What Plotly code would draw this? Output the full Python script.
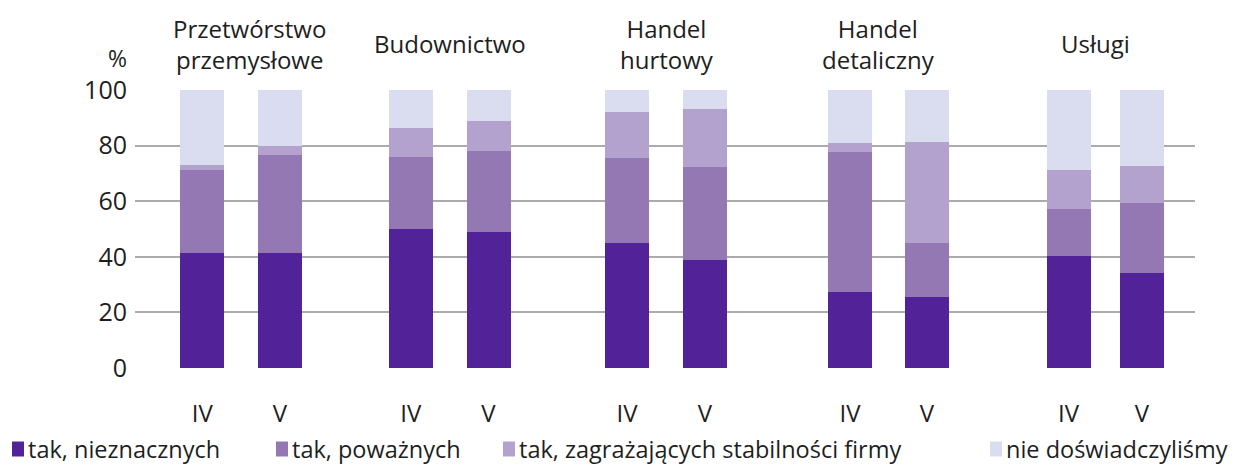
import plotly.graph_objects as go

# ---- data ----
groups = ["Przetwórstwo<br>przemysłowe", "Budownictwo", "Handel<br>hurtowy", "Handel<br>detaliczny", "Usługi"]
periods = ["IV", "V"]
series_names = ["tak, nieznacznych", "tak, poważnych", "tak, zagrażających stabilności firmy", "nie doświadczyliśmy"]
# values per bar in order: group1 IV, group1 V, group2 IV, ...
s_niezn = [41.4, 41.4, 50.0, 48.9, 45.0, 38.8, 27.3, 25.5, 40.3, 34.2]
s_powaz = [29.8, 35.2, 25.9, 29.2, 30.5, 33.5, 50.4, 19.5, 16.9, 25.2]
s_zagr = [1.8, 3.4, 10.4, 10.9, 16.6, 20.9, 3.2, 36.3, 14.0, 13.3]
s_nie = [27.0, 20.0, 13.7, 11.0, 7.9, 6.8, 19.1, 18.7, 28.8, 27.3]
y_ticks = [0, 20, 40, 60, 80, 100]

# ---- layout / style ----
colors = ["#522398", "#9478B4", "#B4A2CE", "#DADCF0"]
OFF = 8  # page body margin
W, H = 1239 - OFF, 465 - OFF
L, T = 135 - OFF, 90 - OFF
plot_w, plot_h = 1060, 278
R = W - L - plot_w
B = H - T - plot_h
# bar centre positions along x axis (pixel-like axis units)
bar_x = [67.2, 145.0, 275.7, 353.5, 492.0, 570.0, 715.0, 792.0, 933.5, 1007.0]
group_label_x = [114, 315, 532, 743, 960]
bar_w = 44
font_family = "Open Sans, Noto Sans, sans-serif"
txt_color = "#1e1e1e"


def px_x(px):
    """reference page pixel x -> paper coordinate"""
    return (px - OFF - L) / plot_w


def px_y(py):
    """reference page pixel y -> paper coordinate"""
    return (T + plot_h - (py - OFF)) / plot_h


series = [s_niezn, s_powaz, s_zagr, s_nie]
tick_text = [periods[i % 2] for i in range(len(bar_x))]

fig = go.Figure()
for name, vals, col in zip(series_names, series, colors):
    fig.add_trace(go.Bar(
        x=bar_x, y=vals, name=name, width=bar_w,
        marker=dict(color=col, line=dict(width=0)),
        showlegend=False, hoverinfo="skip",
    ))

fig.update_layout(
    barmode="stack",
    width=W, height=H,
    margin=dict(l=L, r=R, t=T, b=B, pad=0),
    paper_bgcolor="white", plot_bgcolor="white",
    font=dict(family=font_family, size=22, color=txt_color),
    xaxis=dict(range=[0, plot_w], tickvals=bar_x, ticktext=tick_text,
               ticks="outside", ticklen=24, tickcolor="rgba(0,0,0,0)",
               showgrid=False, zeroline=False, showline=False,
               tickfont=dict(size=24)),
    yaxis=dict(range=[0, 100], tickvals=y_ticks, ticks="outside", ticklen=2,
               tickcolor="rgba(0,0,0,0)", showgrid=True, gridcolor="#ABABAB",
               gridwidth=1.6, zeroline=False, showline=False,
               tickfont=dict(size=25)),
)

annotations = []
for gx, g in zip(group_label_x, groups):
    annotations.append(dict(x=gx, xref="x", y=px_y(44), yref="paper",
                            text=g, showarrow=False, xanchor="center", yanchor="middle",
                            font=dict(size=24, color=txt_color)))
annotations.append(dict(x=px_x(129), xref="paper", y=px_y(58), yref="paper",
                        text="%", showarrow=False, xanchor="right", yanchor="middle",
                        font=dict(size=23, color=txt_color)))

# manual legend
leg_sq_x = [12, 276, 503, 990]
leg_y = 449
shapes = []
for sx, name, col in zip(leg_sq_x, series_names, colors):
    shapes.append(dict(type="rect", xref="paper", yref="paper",
                       x0=px_x(sx), x1=px_x(sx + 12),
                       y0=px_y(leg_y + 7.5), y1=px_y(leg_y - 7.5),
                       fillcolor=col, line=dict(width=0)))
    annotations.append(dict(x=px_x(sx + 15), xref="paper", y=px_y(leg_y), yref="paper",
                            text=name, showarrow=False, xanchor="left", yanchor="middle",
                            borderpad=0, font=dict(size=23.5, color=txt_color)))

fig.update_layout(annotations=annotations, shapes=shapes)
fig.write_html("out.html")
